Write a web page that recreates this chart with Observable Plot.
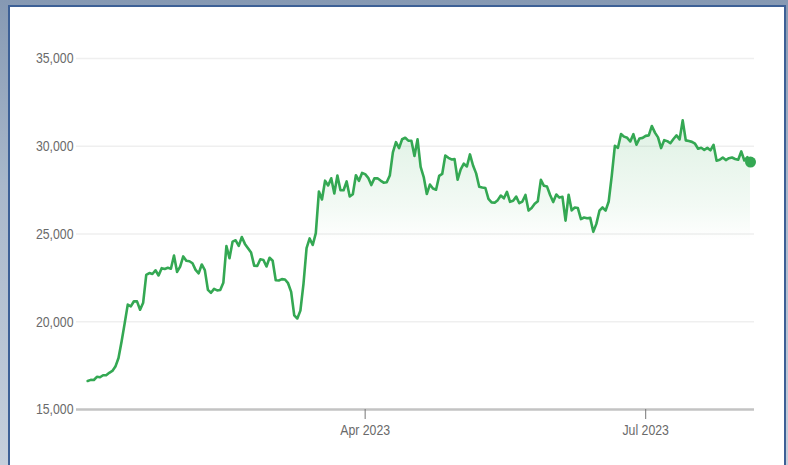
<!DOCTYPE html>
<html>
<head>
<meta charset="utf-8">
<script src="https://cdn.jsdelivr.net/npm/d3@7"></script>
<script src="https://cdn.jsdelivr.net/npm/@observablehq/plot@0.6"></script>
<style>
  html, body { margin: 0; padding: 0; }
  body {
    width: 788px; height: 465px; overflow: hidden; position: relative;
    background: linear-gradient(to bottom, #8699b3 0%, #a9b8cb 40%, #c5cfdc 100%);
  }
  #panel {
    position: absolute; left: 8px; top: 5px; width: 774px; height: 470px;
    background: #fff; border: 2px solid #3d6096; box-sizing: content-box;
  }
  #chart { position: absolute; left: 0; top: 0; }
</style>
</head>
<body>
<div id="panel"></div>
<div id="chart"></div>
<script>
// Daily prices, 2023
const jan = [16625,16688,16680,16863,16836,16951,16955,17091,17196,17446,17934,18869,19909,20976,20880,21169,21161,20688,21086,22676,22777,22720,22934,22636,23055,23009,23074,23023,23775,22840,23139];
const feb = [23724,23471,23449,23331,22955,22760,23264,22939,21819,21651,21870,21788,21808,22220,24307,23623,24565,24641,24327,24829,24436,24188,23947,23199,23175,23561,23522,23147];
const mar = [23647,23476,22362,22354,22430,22410,22197,21705,20363,20187,20633,22163,24197,24747,24375,25052,27423,26965,28038,27768,28176,27307,28333,27493,27494,27994,27139,27268,28348,28033,28478];
const apr = [28411,28199,27790,28168,28177,28044,27925,27947,28333,29653,30235,29892,30400,30485,30318,30315,29445,30397,28822,28245,27276,27817,27591,27525,28307,28422,29473,29340,29248,29268];
const may = [28091,28680,29006,28847,29534,28904,28454,27695,27654,27621,27000,26804,26784,26930,27192,27036,27399,26833,26890,27129,26753,26851,27225,26334,26476,26719,26868,28085,27745,27702,27219];
const jun = [26819,27249,27075,27119,25760,27238,26345,26508,26480,25851,25940,25902,25918,25124,25576,26327,26510,26336,26851,28327,30027,29912,30695,30548,30480,30271,30689,30087,30445,30477];
const jul = [30590,30620,31156,30778,30508,29896,30347,30292,30172,30414,30620,30391,31476,30335,30295,30249,30145,29856,29913,29792,29908,29771,30084,29176,29228,29354,29210,29319,29357,29275,29231];
const aug = [29705,29190,29380,29100];

const months = [jan, feb, mar, apr, may, jun, jul, aug];
const yTicks = [15000, 20000, 25000, 30000, 35000];
const xTicks = ["2023-04-01", "2023-07-01"];
const xDomain = ["2022-12-28T09:00:00Z", "2023-08-05T07:00:00Z"];

const data = [];
months.forEach((vals, m) => {
  vals.forEach((v, d) => data.push({date: new Date(Date.UTC(2023, m, d + 1)), price: v}));
});
const last = data[data.length - 1];

const green = "#34a853";
const font = "'Liberation Sans', Arial, sans-serif";

const chart = Plot.plot({
  width: 788,
  height: 465,
  marginLeft: 76,
  marginRight: 34,
  marginTop: 58,
  marginBottom: 56,
  style: {fontFamily: font, fontSize: "15px", background: "transparent", overflow: "visible"},
  x: {type: "utc", domain: xDomain.map(d => new Date(d))},
  y: {domain: [15000, 35000]},
  marks: [
    Plot.gridY(yTicks.filter(t => t !== 15000), {stroke: "#efefef", strokeOpacity: 1, strokeWidth: 1.5}),
    Plot.areaY(data, {x: "date", y1: 15000, y2: "price", fill: "url(#areaGrad)"}),
    Plot.ruleY([15000], {stroke: "#c3c3c3", strokeWidth: 2.5}),
    Plot.axisY({ticks: yTicks, tickSize: 0, tickPadding: 3, tickFormat: d3.format(","), fill: "#6a6a6a", fontSize: 15, label: null}),
    Plot.axisX({ticks: xTicks.map(d => new Date(d)), tickFormat: d3.utcFormat("%b %Y"), tickSize: 10, tickPadding: 5, stroke: "#777", fill: "#6a6a6a", fontSize: 15, label: null}),
    Plot.lineY(data, {x: "date", y: "price", stroke: green, strokeWidth: 2.6}),
    Plot.dot([last], {x: "date", y: "price", r: 5.5, fill: green, stroke: "none"})
  ]
});

const svg = d3.select(chart);
// narrow the tick label glyphs horizontally (condensed look of the reference)
svg.selectAll('g[aria-label="y-axis tick label"] text, g[aria-label="x-axis tick label"] text')
  .attr("transform", function() { return (this.getAttribute("transform") || "") + " scale(0.82,1)"; });

const defs = svg.insert("defs", ":first-child");
const grad = defs.append("linearGradient").attr("id", "areaGrad").attr("x1", 0).attr("y1", 0).attr("x2", 0).attr("y2", 1);
grad.append("stop").attr("offset", "0%").attr("stop-color", green).attr("stop-opacity", 0.16);
grad.append("stop").attr("offset", "30%").attr("stop-color", green).attr("stop-opacity", 0.06);
grad.append("stop").attr("offset", "42%").attr("stop-color", green).attr("stop-opacity", 0);
grad.append("stop").attr("offset", "100%").attr("stop-color", green).attr("stop-opacity", 0);

document.getElementById("chart").appendChild(chart);
</script>
</body>
</html>
